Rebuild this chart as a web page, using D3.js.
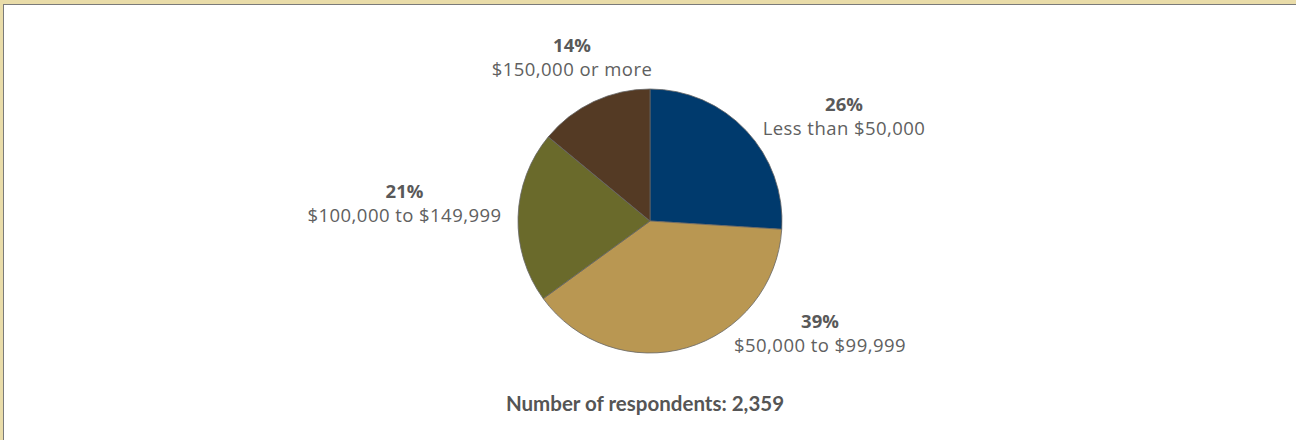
<!DOCTYPE html>
<html>
<head>
<meta charset="utf-8">
<script src="https://cdn.jsdelivr.net/npm/d3@7"></script>
<style>
  html, body { margin: 0; padding: 0; background: #fff; }
  svg { display: block; }
</style>
</head>
<body>
<svg id="chart" width="1296" height="440"></svg>
<script>
// Household income of survey respondents
const categories = ["Less than $50,000", "$50,000 to $99,999", "$100,000 to $149,999", "$150,000 or more"];
const shares = [26, 39, 21, 14];
const colors = ["#003a6d", "#b99752", "#6a6a2b", "#543a24"];
const respondents = "2,359";

const W = 1296, H = 440;
const cx = 650, cy = 221, R = 132;

const svg = d3.select("#chart");

// frame: tan band with a grey inner rule along top and left
svg.append("rect").attr("x", 0).attr("y", 0).attr("width", W).attr("height", H).attr("fill", "#e9dca9");
svg.append("rect").attr("x", 3).attr("y", 4).attr("width", W - 3).attr("height", H - 4).attr("fill", "#7a7a7a");
svg.append("rect").attr("x", 4).attr("y", 5).attr("width", W - 4).attr("height", H - 5).attr("fill", "#ffffff");

const pie = d3.pie().sort(null).value(d => d.value);
const arcs = pie(categories.map((c, i) => ({ name: c, value: shares[i], color: colors[i] })));
const arc = d3.arc().innerRadius(0).outerRadius(R);

const g = svg.append("g").attr("transform", `translate(${cx},${cy})`);
g.selectAll("path.slice")
  .data(arcs)
  .join("path")
  .attr("class", "slice")
  .attr("d", arc)
  .attr("fill", d => d.data.color)
  .attr("stroke", "#666666")
  .attr("stroke-width", 0.8);

// label anchors relative to the pie centre
const labelOffsets = [[194, -99], [170, 118], [-245.5, -12], [-78, -158]];
const labels = g.selectAll("g.lbl")
  .data(arcs)
  .join("g")
  .attr("class", "lbl")
  .attr("transform", (d, i) => `translate(${labelOffsets[i][0]},${labelOffsets[i][1]})`);

labels.append("text")
  .attr("text-anchor", "middle")
  .attr("y", -11)
  .attr("font-family", "'Open Sans', Lato, sans-serif")
  .attr("font-weight", 700)
  .attr("font-size", 18.5)
  .attr("fill", "#595959")
  .text(d => d.data.value + "%");

labels.append("text")
  .attr("text-anchor", "middle")
  .attr("y", 12.5)
  .attr("font-family", "'Open Sans', Lato, sans-serif")
  .attr("font-weight", 400)
  .attr("font-size", 18.5)
  .attr("letter-spacing", 0.45)
  .attr("fill", "#606060")
  .text(d => d.data.name);

svg.append("text")
  .attr("x", 645)
  .attr("y", 411)
  .attr("text-anchor", "middle")
  .attr("font-family", "Lato, 'Open Sans', sans-serif")
  .attr("font-weight", 700)
  .attr("font-size", 20.5)
  .attr("fill", "#555555")
  .text("Number of respondents: " + respondents);
</script>
</body>
</html>
